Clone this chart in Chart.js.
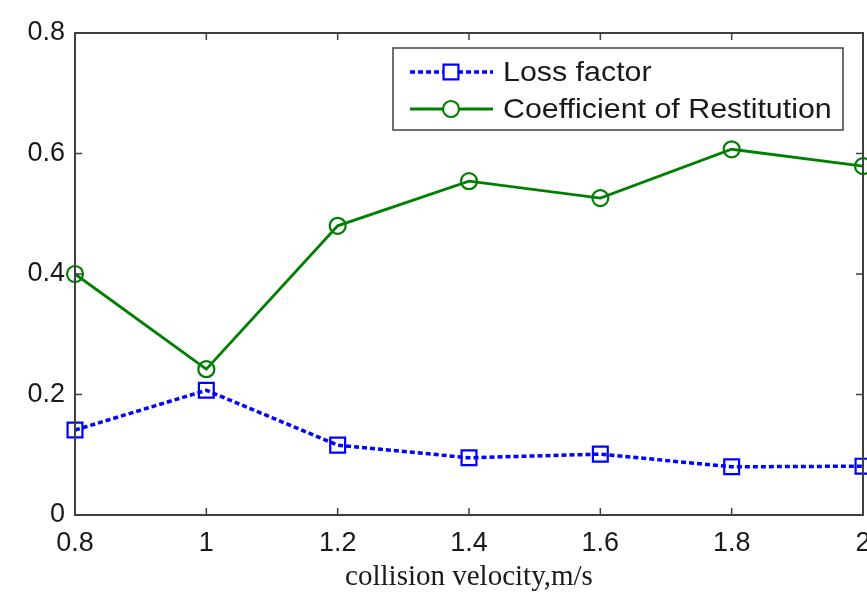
<!DOCTYPE html>
<html>
<head>
<meta charset="utf-8">
<script src="https://cdn.jsdelivr.net/npm/chart.js@4.4.1/dist/chart.umd.min.js"></script>
<style>
html,body{margin:0;padding:0;background:#fff;}
#wrap{width:867px;height:592px;}
</style>
</head>
<body>
<div id="wrap"><canvas id="c" width="867" height="592"></canvas></div>
<script>
const velocities = [0.8, 1.0, 1.2, 1.4, 1.6, 1.8, 2.0];
const lossFactor = [0.141, 0.207, 0.116, 0.095, 0.101, 0.080, 0.081];
const restitution = [0.400, 0.242, 0.480, 0.554, 0.526, 0.607, 0.579];
const xTicks = [0.8, 1, 1.2, 1.4, 1.6, 1.8, 2];
const yTicks = [0, 0.2, 0.4, 0.6, 0.8];
const seriesNames = ['Loss factor', 'Coefficient of Restitution'];
const xTitle = 'collision velocity,m/s';

const SANS = '"Liberation Sans", Arial, sans-serif';
const SERIF = '"Liberation Serif", "Times New Roman", serif';

const framePlugin = {
  id: 'frame',
  afterDatasetsDraw(chart) {
    const {ctx, chartArea: a, scales} = chart;
    ctx.save();
    ctx.strokeStyle = '#404040';
    ctx.lineWidth = 2;
    ctx.strokeRect(a.left, a.top, a.right - a.left, a.bottom - a.top);
    ctx.lineWidth = 1.5;
    const tl = 7;
    xTicks.forEach(v => {
      const x = scales.x.getPixelForValue(v);
      ctx.beginPath();
      ctx.moveTo(x, a.bottom); ctx.lineTo(x, a.bottom - tl);
      ctx.moveTo(x, a.top); ctx.lineTo(x, a.top + tl);
      ctx.stroke();
    });
    yTicks.forEach(v => {
      const y = scales.y.getPixelForValue(v);
      ctx.beginPath();
      ctx.moveTo(a.left, y); ctx.lineTo(a.left + tl, y);
      ctx.moveTo(a.right, y); ctx.lineTo(a.right - tl, y);
      ctx.stroke();
    });
    ctx.restore();
  },
  afterDraw(chart) {
    const ctx = chart.ctx;
    const bx = 393, by = 48, bw = 450, bh = 82;
    ctx.save();
    ctx.fillStyle = '#fff';
    ctx.fillRect(bx, by, bw, bh);
    ctx.strokeStyle = '#404040';
    ctx.lineWidth = 1.5;
    ctx.strokeRect(bx, by, bw, bh);
    const rows = [72, 109];
    chart.data.datasets.forEach((ds, i) => {
      const y = rows[i];
      ctx.strokeStyle = ds.borderColor;
      ctx.lineWidth = ds.borderWidth;
      ctx.setLineDash(ds.borderDash || []);
      ctx.beginPath();
      ctx.moveTo(410, y); ctx.lineTo(493, y);
      ctx.stroke();
      ctx.setLineDash([]);
      ctx.lineWidth = ds.pointBorderWidth;
      ctx.strokeStyle = ds.pointBorderColor;
      ctx.fillStyle = '#fff';
      ctx.beginPath();
      if (ds.pointStyle === 'rect') {
        const h = ds.pointRadius * Math.SQRT1_2;
        ctx.rect(451 - h, y - h, 2 * h, 2 * h);
      } else {
        ctx.arc(451, y, ds.pointRadius, 0, Math.PI * 2);
      }
      ctx.fill();
      ctx.stroke();
      ctx.save();
      ctx.translate(503, y + 1);
      ctx.scale(1.085, 1);
      ctx.fillStyle = '#1a1a1a';
      ctx.font = '28px ' + SANS;
      ctx.textBaseline = 'middle';
      ctx.textAlign = 'left';
      ctx.fillText(ds.label, 0, 0);
      ctx.restore();
    });
    ctx.restore();
  }
};

new Chart(document.getElementById('c'), {
  type: 'line',
  data: {
    datasets: [
      {
        label: seriesNames[0],
        data: velocities.map((v, i) => ({x: v, y: lossFactor[i]})),
        borderColor: '#0000ff',
        borderWidth: 3.5,
        borderDash: [5, 3],
        pointStyle: 'rect',
        pointRadius: 10.5,
        pointBorderWidth: 2.2,
        pointBorderColor: '#0000ff',
        pointBackgroundColor: 'rgba(255,255,255,0)',
        fill: false,
        clip: false,
        tension: 0
      },
      {
        label: seriesNames[1],
        data: velocities.map((v, i) => ({x: v, y: restitution[i]})),
        borderColor: '#007f00',
        borderWidth: 2.8,
        pointStyle: 'circle',
        pointRadius: 8,
        pointBorderWidth: 2.2,
        pointBorderColor: '#007f00',
        pointBackgroundColor: 'rgba(255,255,255,0)',
        fill: false,
        clip: false,
        tension: 0
      }
    ]
  },
  options: {
    responsive: false,
    animation: false,
    layout: {autoPadding: false, padding: {left: 0, right: 4, top: 33, bottom: 0}},
    plugins: {legend: {display: false}, tooltip: {enabled: false}},
    scales: {
      x: {
        type: 'linear',
        min: 0.8, max: 2.0,
        afterBuildTicks: s => { s.ticks = xTicks.map(v => ({value: v})); },
        afterFit: s => { s.paddingLeft = 0; s.paddingRight = 0; s.height = 77; },
        grid: {display: false, drawTicks: false},
        border: {display: false},
        ticks: {
          color: '#1a1a1a',
          font: {family: SANS, size: 27},
          padding: 12,
          maxRotation: 0,
          autoSkip: false,
          callback: v => String(v)
        },
        title: {
          display: true,
          text: xTitle,
          color: '#1a1a1a',
          font: {family: SERIF, size: 29, lineHeight: 1},
          padding: {top: 0, bottom: 0}
        }
      },
      y: {
        type: 'linear',
        min: 0, max: 0.8,
        afterBuildTicks: s => { s.ticks = yTicks.map(v => ({value: v})); },
        afterFit: s => { s.width = 75; s.paddingTop = 0; s.paddingBottom = 0; },
        grid: {display: false, drawTicks: false},
        border: {display: false},
        ticks: {
          color: '#1a1a1a',
          font: {family: SANS, size: 27},
          padding: 10,
          callback: v => String(v)
        }
      }
    }
  },
  plugins: [framePlugin]
});
</script>
</body>
</html>
